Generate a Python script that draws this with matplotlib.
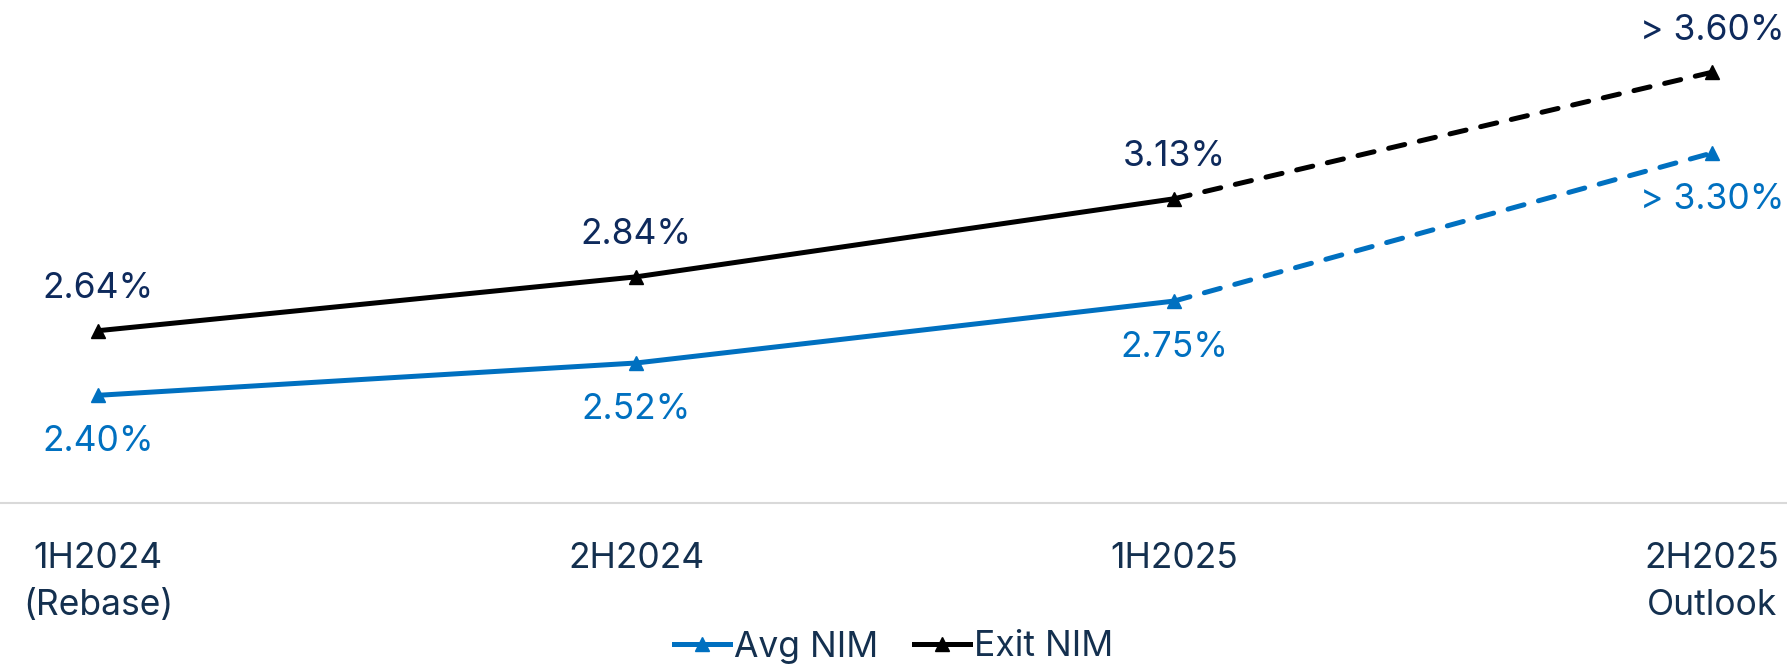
import matplotlib
matplotlib.use("Agg")
import matplotlib.pyplot as plt
from matplotlib.lines import Line2D

categories = ["1H2024\n(Rebase)", "2H2024", "1H2025", "2H2025\nOutlook"]
avg_nim = [2.40, 2.52, 2.75, 3.30]
exit_nim = [2.64, 2.84, 3.13, 3.60]
avg_labels = ["2.40%", "2.52%", "2.75%", "> 3.30%"]
exit_labels = ["2.64%", "2.84%", "3.13%", "> 3.60%"]

BLUE = "#0070C0"
NAVY = "#0E2A5C"
TICK = "#14304F"

plt.rcParams['font.family'] = ['Inter', 'DejaVu Sans']

fig = plt.figure(figsize=(17.87, 6.70), dpi=100)
ax = fig.add_axes([0, 1 - 503 / 670, 1, 503 / 670])
x = list(range(len(categories)))

lw = 3.6
ms = 10
dash = (0, (3.3, 3.0))
ax.plot(x[:3], avg_nim[:3], color=BLUE, lw=lw, marker='^', ms=ms, solid_capstyle='round')
ax.plot(x[2:], avg_nim[2:], color=BLUE, lw=lw, ls=dash, marker='^', ms=ms,
        markevery=[1], dash_capstyle='round')
ax.plot(x[:3], exit_nim[:3], color='black', lw=lw, marker='^', ms=ms, solid_capstyle='round')
ax.plot(x[2:], exit_nim[2:], color='black', lw=lw, ls=dash, marker='^', ms=ms,
        markevery=[1], dash_capstyle='round')

fs = 25.5
for i in x:
    ax.annotate(exit_labels[i], (x[i], exit_nim[i]), xytext=(0, 42), textcoords='offset pixels',
                ha='center', va='center', fontsize=fs, color=NAVY)
    ax.annotate(avg_labels[i], (x[i], avg_nim[i]), xytext=(0, -46), textcoords='offset pixels',
                ha='center', va='center', fontsize=fs, color=BLUE)

ax.set_xlim(-98 / 538, 3 + (1787 - 1712) / 538)
ax.set_ylim(2.0, 2.40 + 395 / 269)
for s in ['top', 'right', 'left']:
    ax.spines[s].set_visible(False)
ax.spines['bottom'].set_color('#D9D9D9')
ax.spines['bottom'].set_linewidth(1.5)
ax.set_yticks([])
ax.set_xticks(x)
ax.set_xticklabels(categories, fontsize=fs, color=TICK, linespacing=1.55)
ax.tick_params(axis='x', length=0, pad=28)

handles = [Line2D([], [], color=BLUE, lw=lw, marker='^', ms=ms),
           Line2D([], [], color='black', lw=lw, marker='^', ms=ms)]
leg = fig.legend(handles, ["Avg NIM", "Exit NIM"], loc='center', bbox_to_anchor=(0.5, 1 - 647 / 670),
                 ncol=2, frameon=False, fontsize=fs, handlelength=1.6, handletextpad=0.1,
                 columnspacing=1.0)
for t in leg.get_texts():
    t.set_color(TICK)

fig.savefig("out.png", dpi=100)
